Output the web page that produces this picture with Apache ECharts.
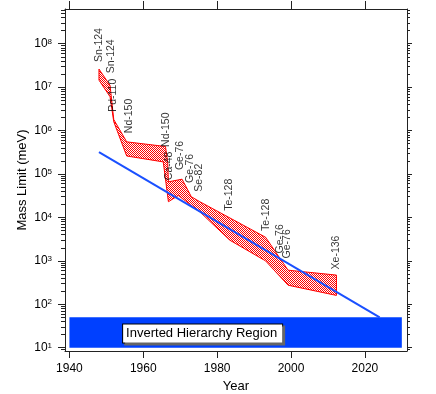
<!doctype html>
<html>
<head>
<meta charset="utf-8">
<script src="https://cdn.jsdelivr.net/npm/echarts@6/dist/echarts.min.js"></script>
<style>
html, body { margin: 0; padding: 0; background: #fff; }
#main { width: 436px; height: 394px; }
</style>
</head>
<body>
<div id="main"></div>
<script type="text/javascript">
// axis ticks
var yearTicks = [1940, 1960, 1980, 2000, 2020];
var decadeTicks = [10, 100, 1e3, 1e4, 1e5, 1e6, 1e7, 1e8];

// hatched band of measured limits (upper and lower edge)
var upperYears = [1948, 1951, 1952, 1955.5, 1966.0, 1966.6, 1966.8, 1970.5, 1973, 1975.3, 1993.1, 1999.2, 2012.3];
var upperMass  = [2.6e7, 1.1e7, 1.8e6, 5.5e5, 4.3e5, 1.9e5, 6.6e4, 7.6e4, 3.0e4, 2.3e4, 3.5e3, 610, 470];
var lowerYears = [1948, 1951, 1952, 1955.5, 1965.4, 1966.8, 1969.5, 1975.3, 1983.4, 1993.1, 1999.2, 2012.3];
var lowerMass  = [1.45e7, 6e6, 1.6e6, 2.6e5, 1.9e5, 2.3e4, 3.2e4, 1.35e4, 3.0e3, 1.0e3, 275, 160];

// isotope labels
var labelNames = ['Sn-124', 'Sn-124', 'Pd-110', 'Nd-150', 'Nd-150', 'Ca-48', 'Ge-76', 'Ge-76', 'Se-82', 'Te-128', 'Te-128', 'Ge-76', 'Ge-76', 'Xe-136'];
var labelYears = [1948.0, 1951.3, 1951.9, 1956.1, 1966.1, 1967.0, 1969.9, 1972.8, 1975.1, 1983.2, 1993.2, 1997.1, 1998.9, 2012.3];
var labelMass  = [3.8e7, 2.1e7, 2.7e6, 8.7e5, 4.2e5, 7.2e4, 1.23e5, 6.2e4, 3.9e4, 1.42e4, 4.9e3, 1.48e3, 1.14e3, 634];

// trend line
var fitYears = [1948, 2024];
var fitMass  = [3.2e5, 50];

// inverted hierarchy region
var regionYears = [1940, 2030];
var regionMass  = [10, 50];

var FONT = 'Liberation Sans';
var xMin = 1938.8, xMax = 2031.4, yMin = 8.4, yMax = 6.3e8;

var minorTicks = [];
for (var d = 1; d <= 1e8; d *= 10) {
    for (var m = 2; m <= 9; m++) {
        var v = m * d;
        if (v > yMin && v < yMax) minorTicks.push(v);
    }
}

// red/white checker used as hatch
var hatch = document.createElement('canvas');
hatch.width = 2; hatch.height = 2;
var hctx = hatch.getContext('2d');
hctx.fillStyle = '#ffffff';
hctx.fillRect(0, 0, 2, 2);
hctx.fillStyle = '#ff0000';
hctx.fillRect(0, 0, 1, 1);
hctx.fillRect(1, 1, 1, 1);
var hatchUrl = hatch.toDataURL('image/png');

var myChart = echarts.init(document.getElementById('main'));

var labelData = [];
for (var i = 0; i < labelNames.length; i++) {
    labelData.push({ name: labelNames[i], value: [labelYears[i], labelMass[i]] });
}
var fitData = [];
for (var i = 0; i < fitYears.length; i++) fitData.push([fitYears[i], fitMass[i]]);

var gridBox = { left: 65, right: 29, top: 9, bottom: 43, outerBoundsMode: 'none' };

option = {
    animation: false,
    backgroundColor: '#fff',
    textStyle: { fontFamily: FONT },
    grid: [
        echarts.util.extend({}, gridBox),
        echarts.util.extend({}, gridBox)
    ],
    xAxis: [
        {
            type: 'value', gridIndex: 0, position: 'bottom',
            min: xMin, max: xMax,
            name: 'Year', nameLocation: 'middle', nameGap: 29, nameMoveOverlap: false,
            nameTextStyle: { fontSize: 13, color: '#000', fontFamily: FONT },
            axisLine: { show: true, onZero: false, lineStyle: { color: '#222', width: 1 } },
            axisTick: { show: true, customValues: yearTicks, length: 7, lineStyle: { color: '#222' } },
            axisLabel: {
                customValues: yearTicks, margin: 12, fontSize: 12, color: '#000', fontFamily: FONT,
                formatter: function (v) { return String(v); }
            },
            splitLine: { show: false }
        },
        {
            type: 'value', gridIndex: 1, position: 'top',
            min: xMin, max: xMax,
            axisLine: { show: true, onZero: false, lineStyle: { color: '#222', width: 1 } },
            axisTick: { show: true, customValues: yearTicks, length: 8, lineStyle: { color: '#222' } },
            axisLabel: { show: false },
            splitLine: { show: false }
        }
    ],
    yAxis: [
        {
            type: 'log', gridIndex: 0, position: 'left',
            min: yMin, max: yMax,
            name: 'Mass Limit (meV)', nameLocation: 'middle', nameGap: 36, nameMoveOverlap: false,
            nameTextStyle: { fontSize: 13, color: '#000', fontFamily: FONT },
            axisLine: { show: true, lineStyle: { color: '#222', width: 1 } },
            axisTick: { show: true, customValues: decadeTicks, length: 7, lineStyle: { color: '#222' } },
            axisLabel: {
                customValues: decadeTicks, margin: 13,
                formatter: function (v) {
                    return '{b|10}{s|' + Math.round(Math.log10(v)) + '}';
                },
                rich: {
                    b: { fontSize: 12, color: '#000', fontFamily: FONT, lineHeight: 12 },
                    s: { fontSize: 8, color: '#000', fontFamily: FONT, lineHeight: 12, verticalAlign: 'top' }
                }
            },
            splitLine: { show: false }
        },
        {
            type: 'log', gridIndex: 0, position: 'right',
            min: yMin, max: yMax,
            axisLine: { show: true, lineStyle: { color: '#222', width: 1 } },
            axisTick: { show: true, customValues: decadeTicks, length: 5, lineStyle: { color: '#222' } },
            axisLabel: { show: false },
            splitLine: { show: false }
        },
        {
            type: 'log', gridIndex: 1, position: 'left',
            min: yMin, max: yMax,
            axisLine: { show: false },
            axisTick: { show: true, customValues: minorTicks, length: 4, lineStyle: { color: '#222' } },
            axisLabel: { show: false },
            splitLine: { show: false }
        },
        {
            type: 'log', gridIndex: 1, position: 'right',
            min: yMin, max: yMax,
            axisLine: { show: false },
            axisTick: { show: true, customValues: minorTicks, length: 3, lineStyle: { color: '#222' } },
            axisLabel: { show: false },
            splitLine: { show: false }
        }
    ],
    series: [
        {
            // measured limits, hatched
            name: 'limits',
            type: 'custom',
            xAxisIndex: 0, yAxisIndex: 0,
            z: 3,
            data: [[upperYears[0], upperMass[0]]],
            renderItem: function (params, api) {
                var pts = [];
                for (var i = 0; i < upperYears.length; i++) {
                    pts.push(api.coord([upperYears[i], upperMass[i]]));
                }
                for (var j = lowerYears.length - 1; j >= 0; j--) {
                    pts.push(api.coord([lowerYears[j], lowerMass[j]]));
                }
                return {
                    type: 'polygon',
                    shape: { points: pts },
                    style: { fill: { image: hatchUrl, repeat: 'repeat' }, stroke: '#ff0000', lineWidth: 1 }
                };
            }
        },
        {
            name: 'trend',
            type: 'line',
            xAxisIndex: 0, yAxisIndex: 0,
            z: 5,
            data: fitData,
            symbol: 'none',
            lineStyle: { color: '#1a50ff', width: 2 },
            markArea: {
                silent: true,
                itemStyle: { color: '#0040ff', opacity: 1 },
                label: {
                    show: true,
                    position: 'inside',
                    offset: [-33, 1],
                    color: '#000', fontSize: 13, fontFamily: FONT,
                    backgroundColor: '#fff', borderColor: '#000', borderWidth: 1,
                    padding: [3, 5, 2, 3],
                    shadowColor: '#666', shadowOffsetX: 2, shadowOffsetY: 2, shadowBlur: 0
                },
                data: [[
                    { name: 'Inverted Hierarchy Region', coord: [regionYears[0], regionMass[0]] },
                    { coord: [regionYears[1], regionMass[1]] }
                ]]
            }
        },
        {
            name: 'isotopes',
            type: 'scatter',
            xAxisIndex: 0, yAxisIndex: 0,
            z: 6,
            symbolSize: 0,
            data: labelData,
            label: {
                show: true,
                position: 'inside',
                rotate: 90,
                align: 'left',
                verticalAlign: 'middle',
                color: '#000', fontSize: 10.5, fontFamily: FONT,
                formatter: function (p) { return p.name; }
            }
        }
    ]
};

myChart.setOption(option);
</script>
</body>
</html>
